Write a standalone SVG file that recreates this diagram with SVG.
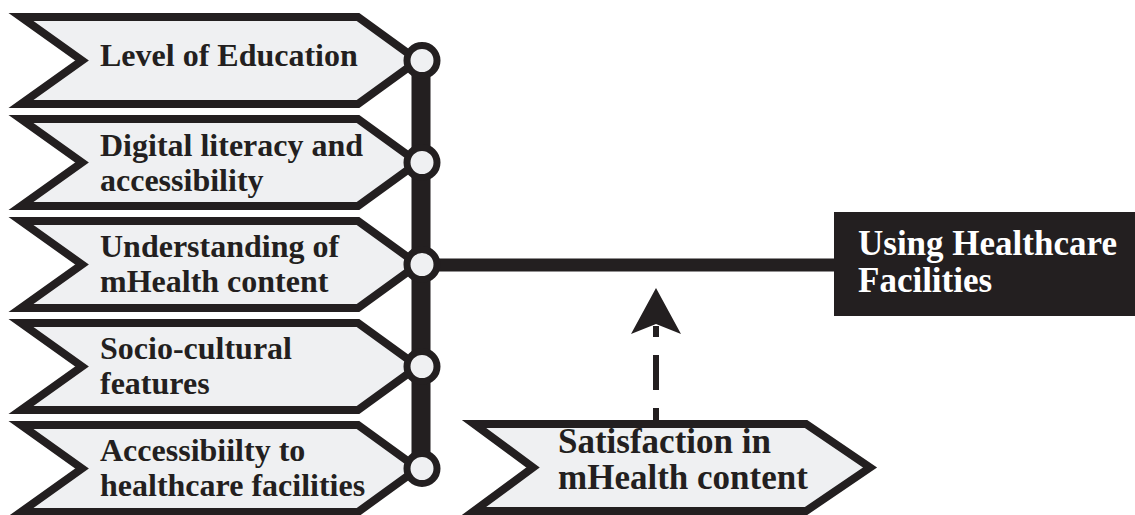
<svg xmlns="http://www.w3.org/2000/svg" width="1135" height="515" viewBox="0 0 1135 515">
  <style>
    .tag { fill: #eff0f2; stroke: #231f20; stroke-width: 8; stroke-linejoin: miter; stroke-miterlimit: 10; }
    .lbl { font-family: "Liberation Serif", "Times New Roman", serif; font-weight: bold; font-size: 32px; fill: #231f20; }
    .lbl-lg { font-family: "Liberation Serif", "Times New Roman", serif; font-weight: bold; font-size: 35px; fill: #231f20; }
    .lbl-w { font-family: "Liberation Serif", "Times New Roman", serif; font-weight: bold; font-size: 35px; fill: #ffffff; }
    .knob { fill: #eff0f2; stroke: #231f20; stroke-width: 7; }
    .bar { stroke: #231f20; fill: none; }
  </style>
  <defs>
    <!-- chevron tag, drawn with its top edge at y=0 -->
    <polygon id="tag-shape" points="21,0 358,0 418,43.5 358,87 21,87 82,43.5"/>
  </defs>

  <rect width="1135" height="515" fill="#ffffff"/>

  <!-- tags (drawn under the spine) -->
  <g id="node-education">
    <use href="#tag-shape" class="tag" y="17"/>
    <text class="lbl" x="100" y="66">Level of Education</text>
  </g>
  <g id="node-digital">
    <use href="#tag-shape" class="tag" y="119"/>
    <text class="lbl" x="100" y="156">Digital literacy and</text>
    <text class="lbl" x="100" y="191">accessibility</text>
  </g>
  <g id="node-understanding">
    <use href="#tag-shape" class="tag" y="221"/>
    <text class="lbl" x="100" y="257">Understanding of</text>
    <text class="lbl" x="100" y="292">mHealth content</text>
  </g>
  <g id="node-sociocultural">
    <use href="#tag-shape" class="tag" y="323"/>
    <text class="lbl" x="100" y="359">Socio-cultural</text>
    <text class="lbl" x="100" y="394">features</text>
  </g>
  <g id="node-access">
    <use href="#tag-shape" class="tag" y="425"/>
    <text class="lbl" x="100" y="461">Accessibiilty to</text>
    <text class="lbl" x="100" y="496">healthcare facilities</text>
  </g>

  <g id="node-satisfaction">
    <polygon class="tag" points="474,424 806,424 870,467.5 806,511 474,511 533,467.5"/>
    <text class="lbl-lg" x="558" y="453">Satisfaction in</text>
    <text class="lbl-lg" x="558" y="489">mHealth content</text>
  </g>

  <g id="node-outcome">
    <rect x="834" y="212" width="301" height="104" fill="#231f20"/>
    <text class="lbl-w" x="858" y="255">Using Healthcare</text>
    <text class="lbl-w" x="858" y="292">Facilities</text>
  </g>

  <!-- connectors: spine, link to outcome, dashed moderator arrow -->
  <g id="connectors">
    <line class="bar" x1="421" y1="60" x2="421" y2="468" stroke-width="19"/>
    <line class="bar" x1="422" y1="265" x2="835" y2="265" stroke-width="13"/>
    <line class="bar" x1="656" y1="420" x2="656" y2="326" stroke-width="6" stroke-dasharray="35 18" stroke-dashoffset="23"/>
    <polygon points="656,288 681,334 656,324 631,334" fill="#231f20"/>
    <circle class="knob" cx="422" cy="60.5" r="15"/>
    <circle class="knob" cx="422" cy="162.5" r="15"/>
    <circle class="knob" cx="422" cy="264.5" r="15"/>
    <circle class="knob" cx="422" cy="366.5" r="15"/>
    <circle class="knob" cx="422" cy="468.5" r="15"/>
  </g>
</svg>
